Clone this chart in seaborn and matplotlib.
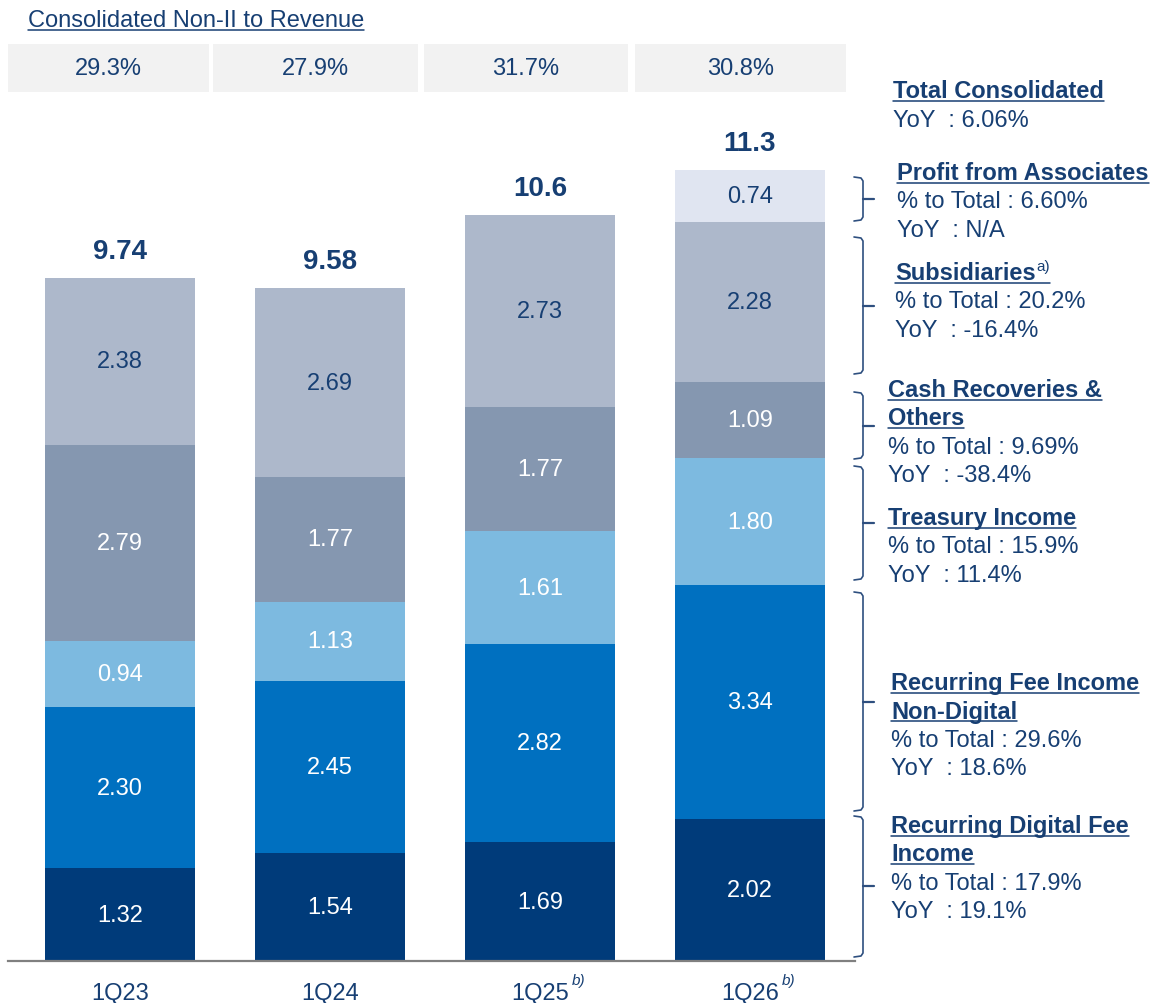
import matplotlib
matplotlib.use("Agg")
import matplotlib.pyplot as plt
import seaborn as sns
import numpy as np
from matplotlib.patches import Rectangle
from matplotlib.lines import Line2D

# ---------------- data ----------------
quarters = ["1Q23", "1Q24", "1Q25", "1Q26"]
quarter_notes = ["", "", "b)", "b)"]
digital_fee = [1.32, 1.54, 1.69, 2.02]
non_digital_fee = [2.30, 2.45, 2.82, 3.34]
treasury_income = [0.94, 1.13, 1.61, 1.80]
cash_recoveries = [2.79, 1.77, 1.77, 1.09]
subsidiaries = [2.38, 2.69, 2.73, 2.28]
associates = [0.0, 0.0, 0.0, 0.74]
total_labels = ["9.74", "9.58", "10.6", "11.3"]
non_ii_to_revenue = ["29.3%", "27.9%", "31.7%", "30.8%"]

segment_headings = [["Recurring Digital Fee", "Income"],
                    ["Recurring Fee Income", "Non-Digital"],
                    ["Treasury Income"],
                    ["Cash Recoveries &", "Others"],
                    ["Subsidiaries"],
                    ["Profit from Associates"]]
pct_to_total = ["17.9%", "29.6%", "15.9%", "9.69%", "20.2%", "6.60%"]
yoy_growth = ["19.1%", "18.6%", "11.4%", "-38.4%", "-16.4%", "N/A"]
total_yoy = "6.06%"

# ---------------- style ----------------
NAVY = "#173F73"
colors = ["#003B7A", "#0070C0", "#7DBAE0", "#8597B0", "#ADB8CB", "#E0E5F1"]
label_colors = ["white", "white", "white", "white", NAVY, NAVY]

sns.set_style("white")
plt.rcParams["font.family"] = ["Liberation Sans", "DejaVu Sans"]

W, H = 1170, 1004
def fx(px):
    return px / W
def fy(py):
    return 1 - py / H

fig = plt.figure(figsize=(W / 100, H / 100), dpi=100)
PX_PER_UNIT = 70.2
ax = fig.add_axes([fx(8), fy(962), fx(855) - fx(8), fy(112) - fy(962)])

series = [digital_fee, non_digital_fee, treasury_income,
          cash_recoveries, subsidiaries, associates]
bottom = np.zeros(len(quarters))
for vals, col, tcol in zip(series, colors, label_colors):
    sns.barplot(x=quarters, y=vals, order=quarters, bottom=bottom.copy(),
                color=col, saturation=1, width=0.714, errorbar=None,
                linewidth=0, ax=ax)
    labels = [f"{v:.2f}" if v > 0 else "" for v in vals]
    ax.bar_label(ax.containers[-1], labels=labels, label_type="center",
                 color=tcol, fontsize=17)
    bottom += np.array(vals)

for i, (tot, lab) in enumerate(zip(bottom, total_labels)):
    ax.annotate(lab, xy=(i, tot), xytext=(0, 19.5), textcoords="offset points",
                ha="center", va="center", fontsize=20, fontweight="bold",
                color=NAVY)

for i, note in enumerate(quarter_notes):
    if note:
        ax.annotate(note, xy=(i, 0), xycoords=("data", "axes fraction"),
                    xytext=(23, -13.5), textcoords="offset points",
                    ha="left", va="center", fontsize=11, style="italic",
                    color=NAVY)

ax.set_xlim(-0.533, 3.5)
ax.set_ylim(0, 850 / PX_PER_UNIT)
ax.set_yticks([])
ax.set_xlabel("")
ax.set_ylabel("")
for s in ["left", "right", "top"]:
    ax.spines[s].set_visible(False)
ax.spines["bottom"].set_color("#808080")
ax.spines["bottom"].set_linewidth(1.6)
ax.tick_params(axis="x", length=0, pad=15, labelsize=17, labelcolor=NAVY)

# ---------------- header ----------------
title = fig.text(fx(28), fy(27), "Consolidated Non-II to Revenue",
                 va="baseline", ha="left", fontsize=17, color=NAVY)
underlines = [(title, 31)]

box_px = [(8, 209), (213, 418), (424, 628), (635, 846)]
for (x0, x1), txt in zip(box_px, non_ii_to_revenue):
    fig.add_artist(Rectangle((fx(x0), fy(93)), fx(x1) - fx(x0), fy(45) - fy(93),
                             transform=fig.transFigure, facecolor="#F2F2F2",
                             edgecolor="none", zorder=0))
    fig.text(fx((x0 + x1) / 2), fy(69), txt, ha="center", va="center",
             fontsize=17, color=NAVY)

# ---------------- right annotations ----------------
STEP = 28.5
t = fig.text(fx(893), fy(98), "Total Consolidated", fontsize=17,
             fontweight="bold", color=NAVY, va="baseline")
underlines.append((t, 102))
fig.text(fx(893), fy(127), "YoY  : " + total_yoy, fontsize=17, color=NAVY,
         va="baseline")

block_pos = [(891, 833), (891, 690), (888, 525), (888, 397), (895, 280), (897, 180)]
sub_texts = {}
for k, ((x, base), heads, pct, yoy) in enumerate(zip(block_pos, segment_headings,
                                                      pct_to_total, yoy_growth)):
    y = base
    for h in heads:
        ht = fig.text(fx(x), fy(y), h, fontsize=17, fontweight="bold",
                      color=NAVY, va="baseline")
        underlines.append((ht, y + 3.5))
        if h == "Subsidiaries":
            sub_texts[k] = (ht, y)
        y += STEP
    fig.text(fx(x), fy(y), "% to Total : " + pct, fontsize=17, color=NAVY,
             va="baseline")
    y += STEP
    fig.text(fx(x), fy(y), "YoY  : " + yoy, fontsize=17, color=NAVY,
             va="baseline")

# brackets
BR = "#2E4F7F"
brackets = [(817, 887, 958), (593, 703, 812), (467, 524, 581),
            (393, 427, 460), (238, 307, 375), (178, 200, 222)]
XV = 863
for top, mid, bot in brackets:
    xs = [fx(XV - 9), fx(XV - 2), fx(XV), fx(XV), fx(XV - 2), fx(XV - 9)]
    ys = [fy(top), fy(top + 1), fy(top + 4), fy(bot - 4), fy(bot - 1), fy(bot)]
    fig.add_artist(Line2D(xs, ys, transform=fig.transFigure, color=BR, lw=1.2))
    fig.add_artist(Line2D([fx(XV), fx(XV + 11)], [fy(mid), fy(mid)],
                          transform=fig.transFigure, color=BR, lw=1.6))

# underlines (measured after a draw)
fig.canvas.draw()
renderer = fig.canvas.get_renderer()
ext = {}
for k, (ht, yb) in sub_texts.items():
    bb = ht.get_window_extent(renderer)
    sup = fig.text(bb.x1 / W + fx(1), fy(yb - 9), "a)", fontsize=11,
                   color=NAVY, va="baseline")
    fig.canvas.draw()
    ext[ht] = sup.get_window_extent(renderer).x1

for txt, yline in underlines:
    bb = txt.get_window_extent(renderer)
    x1 = ext.get(txt, bb.x1)
    fig.add_artist(Line2D([bb.x0 / W, x1 / W], [fy(yline), fy(yline)],
                          transform=fig.transFigure, color=NAVY, lw=1.1))

fig.savefig("out.png", dpi=100)
